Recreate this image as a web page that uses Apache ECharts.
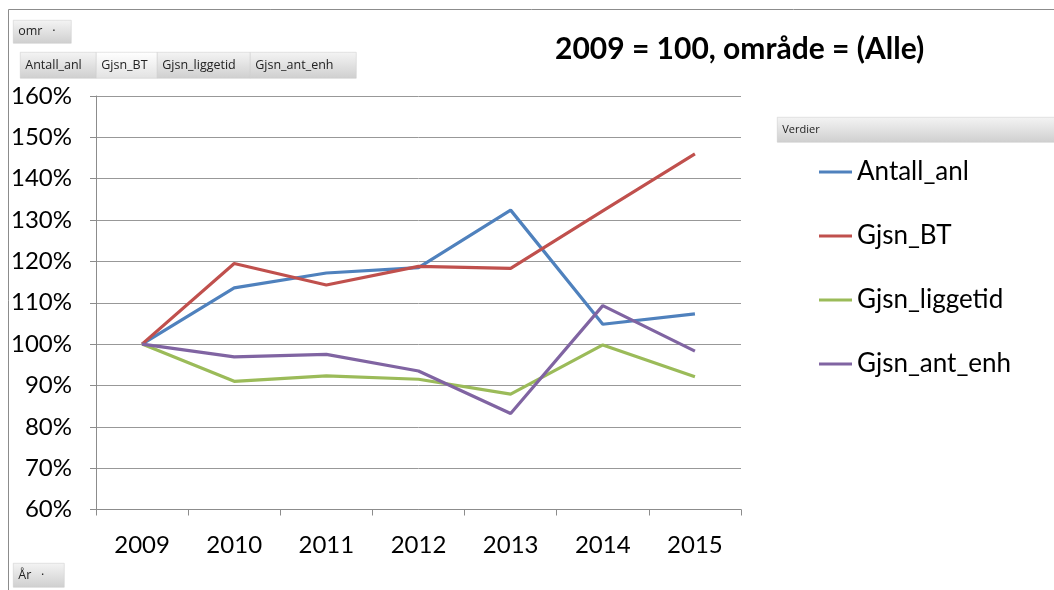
<!DOCTYPE html>
<html>
<head>
    <meta charset="utf-8">
    <script src="https://cdn.jsdelivr.net/npm/echarts@6/dist/echarts.min.js"></script>
</head>
<body style="margin: 0; background: #fff">
    <div id="container" style="height:590px;width:1054px"></div>
    <script type="text/javascript">
        // år (x-akse)
        var years = ['2009', '2010', '2011', '2012', '2013', '2014', '2015'];
        // indeks, 2009 = 100
        var antallAnl = [100, 113.6, 117.2, 118.5, 132.4, 104.8, 107.3];
        var gjsnBT = [100, 119.5, 114.3, 118.8, 118.3, 132.2, 146.0];
        var gjsnLiggetid = [100, 91.0, 92.3, 91.5, 87.9, 99.8, 92.1];
        var gjsnAntEnh = [100, 96.9, 97.5, 93.5, 83.2, 109.3, 98.3];
        var seriesNames = ['Antall_anl', 'Gjsn_BT', 'Gjsn_liggetid', 'Gjsn_ant_enh'];
        var colors = ['#4f81bd', '#c0504d', '#9bbb59', '#8064a2'];

        var font = 'Lato, "Open Sans", sans-serif';
        var btnFill = new echarts.graphic.LinearGradient(0, 0, 0, 1, [
            { offset: 0, color: '#f4f4f4' },
            { offset: 1, color: '#cfcfcf' }
        ]);
        var btnLight = new echarts.graphic.LinearGradient(0, 0, 0, 1, [
            { offset: 0, color: '#ffffff' },
            { offset: 1, color: '#e2e2e2' }
        ]);

        function button(x, y, w, h, label, fill, size) {
            return {
                type: 'group',
                left: x,
                top: y,
                children: [{
                    type: 'rect',
                    shape: { x: 0, y: 0, width: w, height: h },
                    style: { fill: fill, stroke: '#c8c8c8', lineWidth: 0.5 }
                }, {
                    type: 'text',
                    x: 5,
                    y: h / 2,
                    style: {
                        text: label,
                        fill: '#222',
                        font: (size || 12.5) + 'px "Open Sans", sans-serif',
                        verticalAlign: 'middle'
                    }
                }]
            };
        }

        var dom = document.getElementById("container");
        var myChart = echarts.init(dom);

        var series = [antallAnl, gjsnBT, gjsnLiggetid, gjsnAntEnh].map(function (d, i) {
            return {
                name: seriesNames[i],
                type: 'line',
                data: d,
                symbol: 'none',
                smooth: false,
                lineStyle: { width: 3.2, color: colors[i] },
                itemStyle: { color: colors[i] }
            };
        });

        var option = {
            animation: false,
            color: colors,
            title: {
                text: '2009 = 100, område = (Alle)',
                left: 555,
                top: 34,
                padding: 0,
                textStyle: { fontFamily: font, fontSize: 30, fontWeight: 'bold', color: '#000' }
            },
            grid: { left: 96, right: 313, top: 96, bottom: 80.5, containLabel: false },
            legend: {
                orient: 'vertical',
                left: 819,
                top: 159,
                padding: 0,
                icon: 'rect',
                itemWidth: 33,
                itemHeight: 3,
                itemGap: 38,
                textStyle: { fontFamily: font, fontSize: 26, color: '#000', lineHeight: 26 },
                data: seriesNames
            },
            xAxis: {
                type: 'category',
                data: years,
                boundaryGap: true,
                axisLine: { lineStyle: { color: '#8c8c8c', width: 1 } },
                axisTick: { show: true, length: 6, interval: 0, lineStyle: { color: '#8c8c8c' } },
                axisLabel: { margin: 24, fontFamily: font, fontSize: 24, color: '#000' }
            },
            yAxis: {
                type: 'value',
                min: 60,
                max: 160,
                interval: 10,
                axisLine: { show: true, lineStyle: { color: '#8c8c8c', width: 1 } },
                axisTick: { show: true, length: 6, lineStyle: { color: '#8c8c8c' } },
                axisLabel: {
                    margin: 24,
                    fontFamily: font,
                    fontSize: 24,
                    color: '#000',
                    formatter: function (v) { return v + '%'; }
                },
                splitLine: { lineStyle: { color: '#989898', width: 1 } }
            },
            graphic: [
                {
                    type: 'polyline',
                    shape: { points: [[8.5, 600], [8.5, 9.5], [1060, 9.5]] },
                    style: { stroke: '#8c8c8c', lineWidth: 1, fill: null }
                },
                button(13, 20, 58, 23, 'omr   ·', btnFill),
                {
                    type: 'group',
                    children: [
                        button(20, 52, 76, 26, 'Antall_anl', btnFill),
                        button(96, 52, 61, 26, 'Gjsn_BT', btnLight),
                        button(157, 52, 93, 26, 'Gjsn_liggetid', btnFill),
                        button(250, 52, 106, 26, 'Gjsn_ant_enh', btnFill)
                    ]
                },
                button(777, 117, 290, 25, 'Verdier', btnFill, 11),
                button(13, 563, 51, 24, 'År   ·', btnFill)
            ],
            series: series
        };

        if (option && typeof option === "object") {
            myChart.setOption(option, true);
        }
    </script>
</body>
</html>
